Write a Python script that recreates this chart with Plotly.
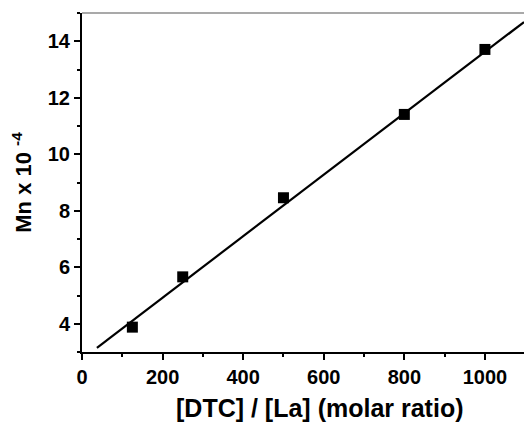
import plotly.graph_objects as go

# Data
ratio = [125, 250, 500, 800, 1000]
mn = [3.88, 5.66, 8.46, 11.41, 13.71]
fit_x = [37, 1097]
fit_y = [3.15, 14.68]

x_ticks = [0, 200, 400, 600, 800, 1000]
y_ticks = [4, 6, 8, 10, 12, 14]
x_title = "[DTC] / [La] (molar ratio)"
y_title = "Mn x 10 <sup>-4</sup>"

font_family = "Liberation Sans"

fig = go.Figure()
fig.add_trace(go.Scatter(x=fit_x, y=fit_y, mode="lines",
                         line=dict(color="black", width=2.2), showlegend=False))
fig.add_trace(go.Scatter(x=ratio, y=mn, mode="markers",
                         marker=dict(symbol="square", size=11, color="black"),
                         showlegend=False))

fig.update_layout(
    width=524, height=423,
    margin=dict(l=82, r=0, t=13, b=71),
    plot_bgcolor="white", paper_bgcolor="white",
    font=dict(family=font_family, color="black"),
    xaxis=dict(range=[0, 1097], tickvals=x_ticks,
               ticktext=[f"<b>{v}</b>" for v in x_ticks],
               ticks="outside", ticklen=6, tickwidth=1.5, tickcolor="black",
               showline=True, linecolor="black", linewidth=2,
               showgrid=False, zeroline=False,
               minor=dict(dtick=100, tick0=0, ticks="outside", ticklen=3, tickwidth=1.5, tickcolor="black"),
               tickfont=dict(size=20, family=font_family, weight=700)),
    yaxis=dict(range=[3, 15], tickvals=y_ticks,
               ticktext=[f"<b>{v}</b>" for v in y_ticks],
               ticks="outside", ticklen=6, tickwidth=1.5, tickcolor="black",
               showline=True, linecolor="black", linewidth=2,
               showgrid=False, zeroline=False,
               minor=dict(dtick=1, tick0=3, ticks="outside", ticklen=3, tickwidth=1.5, tickcolor="black"),
               tickfont=dict(size=20, family=font_family, weight=700),
               title=dict(text=f"<b>{y_title}</b>", font=dict(size=22, family=font_family), standoff=10)),
)
fig.add_annotation(text=f"<b>{x_title}</b>", xref="paper", yref="paper",
                   x=0.538, y=-0.166, xanchor="center", yanchor="middle",
                   showarrow=False, font=dict(size=25, family=font_family))
fig.add_shape(type="line", xref="paper", yref="paper", x0=0, x1=1, y0=1, y1=1,
              line=dict(color="#555555", width=1.2))

fig.write_html("out.html")
